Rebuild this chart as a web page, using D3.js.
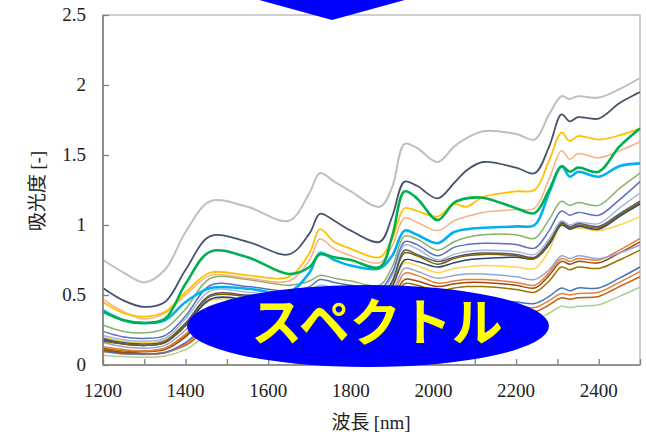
<!DOCTYPE html>
<html>
<head>
<meta charset="utf-8">
<script src="https://cdn.jsdelivr.net/npm/d3@7"></script>
<style>
  body { margin: 0; background: #fff; }
  svg { display: block; }
  .tick-label { font-family: "Liberation Serif", "Times New Roman", serif; font-size: 19px; fill: #222; }
  .axis-title { font-size: 19px; fill: #222; }
</style>
</head>
<body>
<div id="chart"></div>
<script>
// wavelength grid [nm]
const wavelengths = [1200, 1250, 1300, 1350, 1400, 1460, 1550, 1650, 1700, 1725, 1760, 1800, 1870, 1900,
    1930, 1960, 2010, 2050, 2080, 2120, 2200, 2245, 2280, 2310, 2330, 2350, 2400, 2450, 2500];

// absorbance of each sample
const sGrey = [.75, .66, .59, .68, .95, 1.17, 1.13, 1.03, 1.23, 1.37, 1.31, 1.24, 1.13, 1.27,
    1.58, 1.55, 1.45, 1.56, 1.62, 1.67, 1.65, 1.61, 1.79, 1.92, 1.90, 1.92, 1.91, 1.97, 2.05];
const sNavy = [.55, .46, .415, .45, .68, .92, .88, .79, .94, 1.08, 1.03, .96, .88, 1.06,
    1.31, 1.28, 1.19, 1.30, 1.39, 1.45, 1.41, 1.37, 1.56, 1.79, 1.74, 1.77, 1.76, 1.87, 1.95];
const sYellow = [.45, .37, .345, .38, .52, .66, .64, .63, .80, .97, .88, .83, .77, .90,
    1.12, 1.10, 1.06, 1.15, 1.13, 1.20, 1.24, 1.25, 1.46, 1.66, 1.60, 1.635, 1.61, 1.64, 1.69];
const sSalmon = [.47, .38, .33, .37, .50, .64, .62, .60, .75, .90, .83, .78, .73, .85,
    1.05, 1.02, .96, 1.03, 1.06, 1.09, 1.11, 1.12, 1.33, 1.53, 1.47, 1.51, 1.48, 1.53, 1.595];
const sGreen = [.38, .32, .30, .33, .58, .81, .77, .65, .70, .79, .77, .75, .70, .92,
    1.24, 1.19, 1.035, 1.16, 1.19, 1.195, 1.12, 1.085, 1.25, 1.42, 1.38, 1.41, 1.38, 1.56, 1.69];
const sCyan = [.39, .32, .30, .32, .45, .55, .545, .52, .66, .80, .75, .71, .69, .78,
    .96, .93, .87, .95, .97, .98, .99, 1.00, 1.23, 1.42, 1.345, 1.38, 1.345, 1.42, 1.44];
const sOlive = [.286, .24, .23, .26, .40, .62, .61, .57, .60, .64, .62, .60, .57, .70,
    .92, .90, .82, .88, .91, .93, .93, .905, 1.04, 1.17, 1.14, 1.16, 1.14, 1.26, 1.37];
const sBlue = [.24, .20, .19, .21, .35, .57, .56, .53, .56, .61, .59, .57, .54, .66,
    .88, .86, .78, .84, .86, .87, .86, .835, .96, 1.10, 1.07, 1.09, 1.07, 1.18, 1.31];
const sLightBlue = [.21, .18, .17, .19, .33, .53, .52, .50, .53, .57, .55, .53, .51, .64,
    .857, .83, .75, .79, .81, .82, .81, .79, .90, 1.03, 1.00, 1.02, 1.01, 1.12, 1.23];
const sDarkGrey = [.19, .16, .15, .17, .30, .50, .50, .48, .50, .54, .52, .50, .48, .60,
    .82, .79, .74, .77, .79, .80, .79, .77, .88, 1.02, .99, 1.01, .99, 1.08, 1.17];
const sDarkOlive = [.17, .15, .14, .16, .29, .49, .49, .47, .49, .53, .51, .49, .47, .59,
    .80, .78, .72, .76, .78, .79, .78, .76, .87, 1.01, .98, 1.00, .98, 1.07, 1.16];
const sDarkBlue = [.18, .15, .14, .16, .28, .47, .47, .45, .47, .51, .49, .47, .45, .56,
    .75, .74, .70, .73, .75, .76, .77, .76, .86, 1.00, .97, .99, .97, 1.06, 1.15];
const sGold = [.20, .17, .16, .18, .30, .46, .46, .44, .46, .49, .47, .46, .44, .55,
    .73, .71, .66, .69, .70, .71, .70, .69, .82, 1.00, .97, .98, .96, 1.00, 1.06];
const sPeri = [.16, .13, .12, .14, .25, .42, .42, .40, .42, .45, .43, .42, .40, .51,
    .69, .67, .62, .64, .65, .65, .63, .61, .68, .78, .76, .78, .76, .80, .857];
const sOrange = [.13, .11, .10, .12, .22, .40, .40, .38, .40, .43, .41, .40, .38, .48,
    .655, .64, .585, .60, .61, .61, .59, .57, .66, .76, .74, .76, .75, .82, .905];
const sBrown = [.11, .09, .095, .11, .20, .38, .38, .36, .38, .41, .39, .38, .36, .46,
    .61, .60, .56, .58, .59, .59, .57, .55, .64, .74, .72, .74, .73, .80, .88];
const sOchre = [.12, .10, .10, .12, .21, .37, .37, .35, .37, .39, .38, .37, .35, .44,
    .58, .57, .53, .55, .56, .56, .54, .52, .60, .70, .68, .70, .69, .75, .82];
const sBlueLow = [.10, .08, .08, .09, .16, .30, .30, .29, .30, .32, .31, .30, .29, .36,
    .48, .47, .44, .45, .46, .46, .45, .44, .49, .55, .53, .55, .55, .62, .70];
const sOrangeLow = [.095, .08, .075, .085, .15, .28, .28, .27, .28, .30, .29, .28, .27, .34,
    .45, .44, .41, .42, .43, .43, .42, .41, .46, .51, .50, .51, .52, .59, .667];
const sRust = [.10, .085, .08, .09, .14, .26, .26, .25, .26, .28, .27, .26, .25, .31,
    .42, .41, .38, .39, .40, .40, .39, .38, .43, .48, .47, .48, .49, .56, .63];
const sPaleGreen = [.07, .06, .055, .065, .11, .22, .22, .21, .22, .24, .23, .22, .21, .27,
    .37, .36, .34, .35, .35, .35, .34, .33, .37, .42, .41, .42, .43, .49, .555];

// drawing order: lowest first so the upper ones sit on top
const seriesList = [sPaleGreen, sRust, sOrangeLow, sBlueLow, sOchre, sBrown, sOrange, sPeri, sGold,
    sDarkBlue, sDarkOlive, sDarkGrey, sLightBlue, sBlue, sOlive, sSalmon, sYellow, sCyan, sGreen, sNavy, sGrey];
const seriesColors = ["#a9d18e", "#c55a11", "#ed7d31", "#4472c4", "#997300", "#9e480e", "#ed7d31", "#8fa5dc", "#ffd34d",
    "#264478", "#7f6000", "#5a5a5a", "#a4b8e2", "#5b6fc0", "#8bb26a", "#f4b183", "#ffc000", "#00b0f0", "#00b050", "#44546a", "#bfbfbf"];
const seriesWidths = [1.5, 1.5, 1.5, 1.5, 1.5, 1.5, 1.5, 1.5, 1.5,
    1.5, 1.5, 1.5, 1.5, 1.5, 1.5, 1.5, 1.8, 2.6, 2.6, 1.8, 2];

const yTicks = [0, 0.5, 1, 1.5, 2, 2.5];
const xTicks = [1200, 1300, 1400, 1500, 1600, 1700, 1800, 1900, 2000, 2100, 2200, 2300, 2400, 2500];
const xLabels = [1200, 1400, 1600, 1800, 2000, 2200, 2400];

const W = 646, H = 435;
const margin = {top: 15, right: 6, bottom: 70, left: 103};

const svg = d3.select("#chart").append("svg")
    .attr("width", W)
    .attr("height", H);

const x = d3.scaleLinear().domain([1200, 2500]).range([margin.left, W - margin.right]);
const y = d3.scaleLinear().domain([0, 2.5]).range([H - margin.bottom, margin.top]);

// frame
svg.append("rect")
    .attr("x", x(1200)).attr("y", y(2.5))
    .attr("width", x(2500) - x(1200)).attr("height", y(0) - y(2.5))
    .attr("fill", "none").attr("stroke", "#b4b4b4").attr("stroke-width", 1.3);

// spectra
const line = d3.line()
    .x((d, i) => x(wavelengths[i]))
    .y(d => y(d))
    .curve(d3.curveCatmullRom.alpha(0.5));

svg.append("g").selectAll("path")
    .data(seriesList)
    .enter().append("path")
    .attr("d", line)
    .attr("fill", "none")
    .attr("stroke", (d, i) => seriesColors[i])
    .attr("stroke-width", (d, i) => seriesWidths[i])
    .attr("stroke-linejoin", "round");

// axes (ticks point inward)
const xAxis = d3.axisTop(x).tickValues(xTicks).tickSize(6).tickFormat("");
svg.append("g")
    .attr("transform", `translate(0, ${y(0)})`)
    .call(xAxis)
    .call(g => g.select(".domain").remove())
    .call(g => g.selectAll("line").attr("stroke", "#7f7f7f").attr("stroke-width", 1.3));

const yAxis = d3.axisRight(y).tickValues(yTicks).tickSize(6).tickFormat("");
svg.append("g")
    .attr("transform", `translate(${x(1200)}, 0)`)
    .call(yAxis)
    .call(g => g.select(".domain").remove())
    .call(g => g.selectAll("line").attr("stroke", "#7f7f7f").attr("stroke-width", 1.3));

// left and bottom spines
svg.append("line")
    .attr("x1", x(1200)).attr("x2", x(1200)).attr("y1", y(2.5)).attr("y2", y(0))
    .attr("stroke", "#7f7f7f").attr("stroke-width", 1.6);
svg.append("line")
    .attr("x1", x(1200)).attr("x2", x(2500)).attr("y1", y(0)).attr("y2", y(0))
    .attr("stroke", "#7f7f7f").attr("stroke-width", 1.6);

// tick labels
svg.append("g").selectAll("text")
    .data(yTicks)
    .enter().append("text")
    .attr("class", "tick-label")
    .attr("x", 86)
    .attr("y", d => y(d) + 6)
    .attr("text-anchor", "end")
    .text(d => d);

svg.append("g").selectAll("text")
    .data(xLabels)
    .enter().append("text")
    .attr("class", "tick-label")
    .attr("x", d => x(d))
    .attr("y", y(0) + 32)
    .attr("text-anchor", "middle")
    .text(d => d);

// axis titles
const xTitle = svg.append("text")
    .attr("class", "axis-title")
    .attr("x", 371)
    .attr("y", 429)
    .attr("text-anchor", "middle");
xTitle.append("tspan").attr("font-family", "'Noto Sans CJK JP', sans-serif").text("波長 ");
xTitle.append("tspan").attr("font-family", "'Liberation Serif', serif").text("[nm]");

const yTitle = svg.append("text")
    .attr("class", "axis-title")
    .attr("transform", "translate(44, 191) rotate(-90)")
    .attr("text-anchor", "middle");
yTitle.append("tspan").attr("font-family", "'Noto Sans CJK JP', sans-serif").text("吸光度 ");
yTitle.append("tspan").attr("font-family", "'Liberation Serif', serif").text("[-]");

// arrow tip coming down from above
svg.append("polygon")
    .attr("points", "252,-2 412,-2 332,20")
    .attr("fill", "#0000ff");

// label balloon
svg.append("ellipse")
    .attr("cx", 368).attr("cy", 326)
    .attr("rx", 181).attr("ry", 41)
    .attr("fill", "#0000ff");

svg.append("text")
    .attr("x", 377)
    .attr("y", 341)
    .attr("text-anchor", "middle")
    .attr("font-family", "'Noto Sans CJK JP', sans-serif")
    .attr("font-weight", "bold")
    .attr("font-size", 51)
    .attr("fill", "#ffff00")
    .text("スペクトル");
</script>
</body>
</html>
